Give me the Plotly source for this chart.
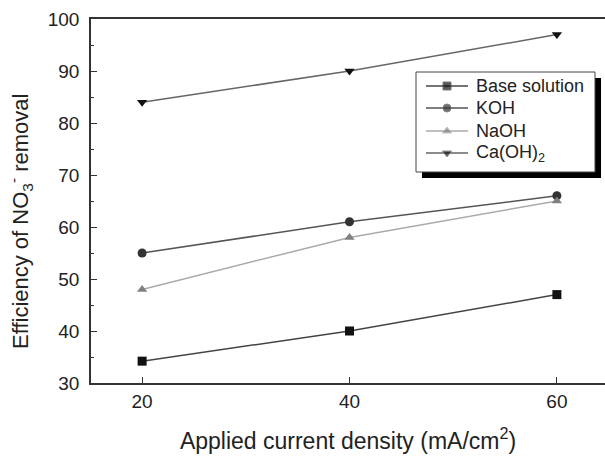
import plotly.graph_objects as go

current_density = [20, 40, 60]
base_solution = [34.2, 40, 47]
koh = [55, 61, 66]
naoh = [48, 58, 65]
caoh2 = [84, 90, 97]

names = ["Base solution", "KOH", "NaOH", "Ca(OH)<sub>2</sub>"]
values = [base_solution, koh, naoh, caoh2]
symbols = ["square", "circle", "triangle-up", "triangle-down"]
marker_colors = ["#111111", "#333333", "#808080", "#111111"]
line_colors = ["#444444", "#555555", "#aaaaaa", "#666666"]

W, H = 605, 457
L, R, T, B = 91, 0, 19, 74

fig = go.Figure()
for name, vals, sym, mc, lc in zip(names, values, symbols, marker_colors, line_colors):
    fig.add_trace(go.Scatter(
        x=current_density, y=vals, name=name, mode="lines+markers",
        line=dict(color=lc, width=1.5),
        marker=dict(symbol=sym, size=9, color=mc),
        showlegend=False,
    ))

# hand-drawn legend on a pixel-unit overlay axis
leg_rows = [86, 108, 131, 153]
for name, sym, mc, lc, ry in zip(names, symbols, marker_colors, line_colors, leg_rows):
    fig.add_trace(go.Scatter(
        x=[426, 447, 468], y=[ry, ry, ry], xaxis="x2", yaxis="y2",
        mode="lines+markers", line=dict(color=lc, width=1.5),
        marker=dict(symbol=sym, size=[0, 8, 0], color=mc),
        showlegend=False, hoverinfo="skip",
    ))
    fig.add_annotation(x=474, y=ry, xref="x2", yref="y2", text=name,
                       showarrow=False, xanchor="left", yanchor="middle",
                       font=dict(size=18, color="#222222"))

fig.add_shape(type="rect", xref="x2", yref="y2", x0=422, x1=601, y0=78, y1=178,
              fillcolor="black", line=dict(width=0), layer="below")
fig.add_shape(type="rect", xref="x2", yref="y2", x0=416, x1=595, y0=72, y1=172,
              fillcolor="white", line=dict(width=1, color="#444444"), layer="below")

# y-axis title
fig.add_annotation(x=-(L - 20) / (W - L - R), y=(H - B - 222) / (H - T - B),
                   xref="paper", yref="paper", textangle=-90,
                   text="Efficiency of NO<sub>3</sub><sup>-</sup> removal",
                   showarrow=False, xanchor="center", yanchor="middle",
                   font=dict(size=22, color="#222222"))

fig.update_layout(
    width=W, height=H,
    margin=dict(l=L, r=R, t=T, b=B),
    paper_bgcolor="white", plot_bgcolor="rgba(0,0,0,0)",
    font=dict(family="Liberation Sans, Arial, sans-serif", size=19, color="#222222"),
    showlegend=False,
    xaxis=dict(range=[15.07, 64.64], tickvals=[20, 40, 60], ticks="inside",
               ticklen=6, tickwidth=1.3, tickcolor="#333333",
               showline=True, linecolor="#333333", linewidth=1.6, mirror=True,
               showgrid=False, zeroline=False,
               title=dict(text="Applied current density (mA/cm<sup>2</sup>)", standoff=22,
                          font=dict(size=23))),
    yaxis=dict(range=[30, 100], tickvals=[30, 40, 50, 60, 70, 80, 90, 100], ticks="inside",
               ticklen=6, tickwidth=1.3, tickcolor="#333333",
               minor=dict(tickvals=[35, 45, 55, 65, 75, 85, 95], ticks="inside", ticklen=3,
                          tickcolor="#333333", tickwidth=1.2),
               showline=True, linecolor="#333333", linewidth=1.6,
               showgrid=False, zeroline=False, ticklabelstandoff=6),
    xaxis2=dict(range=[L, W - R], overlaying="x", anchor="y2", visible=False, fixedrange=True),
    yaxis2=dict(range=[H - B, T], overlaying="y", anchor="x2", visible=False, fixedrange=True),
)

fig.write_html("out.html")
